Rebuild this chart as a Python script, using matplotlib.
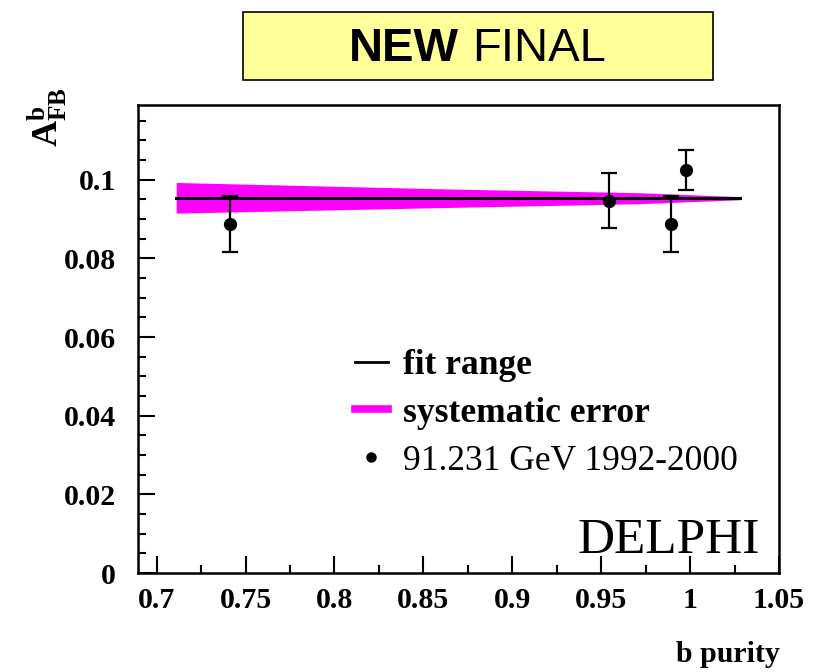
import matplotlib
matplotlib.use('Agg')
import matplotlib.pyplot as plt
from matplotlib.lines import Line2D
from matplotlib.patches import Rectangle
from matplotlib.ticker import MultipleLocator

plt.rcParams['font.family'] = ['Liberation Serif', 'DejaVu Serif']
plt.rcParams['mathtext.fontset'] = 'custom'
plt.rcParams['mathtext.rm'] = 'Liberation Serif'
plt.rcParams['mathtext.bf'] = 'Liberation Serif:bold'

# data points: b purity, A_FB^b and error
purity = [0.741, 0.9545, 0.989, 0.9975]
afb = [0.0888, 0.0947, 0.0888, 0.1025]
afb_err = [0.0071, 0.0069, 0.0071, 0.0050]

# fit line over the fit range
fit_x = [0.711, 1.028]
fit_y = [0.0953, 0.0953]

# systematic error band
band_x = [0.711, 0.859, 0.971, 1.028]
band_lo = [0.0915, 0.0929, 0.0939, 0.0949]
band_hi = [0.0993, 0.0977, 0.0967, 0.0957]

x_ticks = [0.7, 0.75, 0.8, 0.85, 0.9, 0.95, 1.0, 1.05]
x_ticklabels = ['0.7', '0.75', '0.8', '0.85', '0.9', '0.95', '1', '1.05']
y_ticks = [0, 0.02, 0.04, 0.06, 0.08, 0.1]
y_ticklabels = ['0', '0.02', '0.04', '0.06', '0.08', '0.1']

legend_labels = ['fit range', 'systematic error', '91.231 GeV 1992-2000']

MAGENTA = '#ff00ff'

fig = plt.figure(figsize=(8.16, 6.72), dpi=100)
W, H = 816, 672
ax = fig.add_axes([138 / W, 1 - 573 / H, 641 / W, 468 / H])

# band, fit line, points
ax.fill_between(band_x, band_lo, band_hi, color=MAGENTA, lw=0, zorder=1)
ax.plot(fit_x, fit_y, color='black', lw=2.2, zorder=2)
ax.errorbar(purity, afb, yerr=afb_err, fmt='o', color='black', ms=8.5,
            capsize=5.5, elinewidth=1.6, capthick=1.6, zorder=4)

ax.set_xlim(0.6895, 1.05)
ax.set_ylim(0, 0.119)
ax.set_xticks(x_ticks)
ax.set_xticklabels(x_ticklabels)
ax.set_yticks(y_ticks)
ax.set_yticklabels(y_ticklabels)
ax.xaxis.set_minor_locator(MultipleLocator(0.025))
ax.yaxis.set_minor_locator(MultipleLocator(0.005))
ax.tick_params(which='both', direction='in', top=False, right=False, width=1.5)
ax.tick_params(which='major', length=12)
ax.tick_params(which='minor', length=6)
ax.tick_params(axis='x', pad=10, labelsize=21.5)
ax.tick_params(axis='y', pad=16, labelsize=21.5)
for lab in ax.get_xticklabels() + ax.get_yticklabels():
    lab.set_fontweight('bold')
for sp in ax.spines.values():
    sp.set_linewidth(1.8)

# axis labels
ax.set_xlabel('b purity', fontsize=21.5, fontweight='bold')
ax.xaxis.set_label_coords(1.002, -0.145)
ax.xaxis.label.set_ha('right')
fig.text(47 / W, 1 - 117 / H, r'$\mathbf{A^{b}_{FB}}$', rotation=90,
         ha='center', va='center', fontsize=26)

# legend
handles = [Line2D([], [], color='black', lw=2),
           Line2D([], [], color=MAGENTA, lw=5.5),
           Line2D([], [], color='black', marker='o', ms=6.5, ls='none')]
leg = ax.legend(handles, legend_labels, loc='upper left',
                bbox_to_anchor=(0.3385, 0.4786), frameon=False, fontsize=25.5,
                handlelength=0.93, handletextpad=0.42, labelspacing=0.42,
                borderpad=0, borderaxespad=0)
texts = leg.get_texts()
texts[0].set_fontweight('bold')
texts[1].set_fontweight('bold')

ax.text(0.97, 0.043, 'DELPHI', transform=ax.transAxes, ha='right',
        va='baseline', fontsize=37)

# title box
fig.add_artist(Rectangle((243 / W, 1 - 80 / H), 470 / W, 68 / H,
                         transform=fig.transFigure, facecolor='#ffff99',
                         edgecolor='black', lw=1.2))
fig.text(459 / W, 1 - 61 / H, 'NEW', ha='right', va='baseline',
         fontsize=34, fontweight='bold', family='Liberation Sans')
fig.text(472 / W, 1 - 61 / H, 'FINAL', ha='left', va='baseline',
         fontsize=34, family='Liberation Sans')

fig.savefig('out.png', dpi=100)
